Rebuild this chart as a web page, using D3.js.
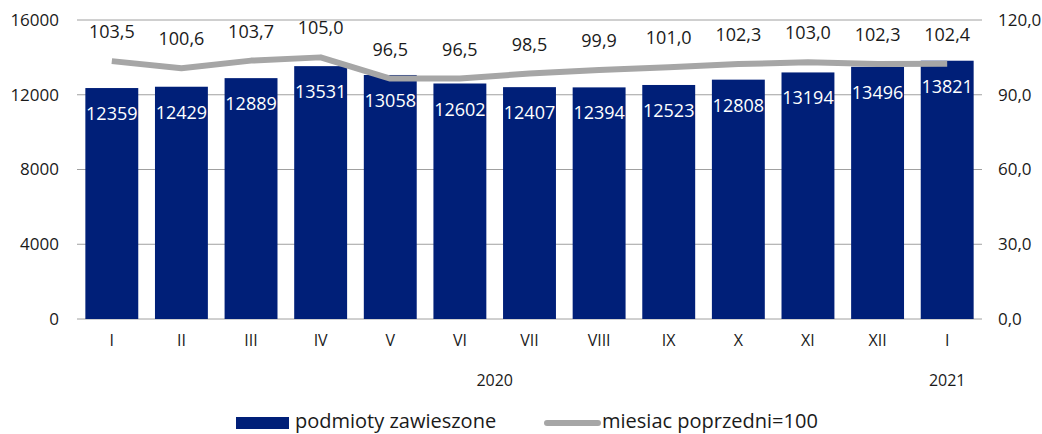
<!DOCTYPE html>
<html>
<head>
<meta charset="utf-8">
<script src="https://cdn.jsdelivr.net/npm/d3@7"></script>
<style>
  body{margin:0;background:#fff}
  svg{display:block}
</style>
</head>
<body>
<svg id="chart" width="1042" height="434"></svg>
<script>
// data
var months=['I','II','III','IV','V','VI','VII','VIII','IX','X','XI','XII','I'];
var suspended=[12359,12429,12889,13531,13058,12602,12407,12394,12523,12808,13194,13496,13821];
var prevMonth=[103.5,100.6,103.7,105.0,96.5,96.5,98.5,99.9,101.0,102.3,103.0,102.3,102.4];
var leftTicks=[0,4000,8000,12000,16000];
var rightTicks=[0,30,60,90,120];
var years=[{label:'2020',idx:5.5},{label:'2021',idx:12}];

var F='"Open Sans","Noto Sans",sans-serif';
var C={bar:'#001f78',line:'#a6a6a6',grid:'#a0a0a0',text:'#1a1a1a'};

var svg=d3.select('#chart');
var L=77,R=982,T=20,B=319;
var keys=months.map(function(m,i){return i});

var x=d3.scaleBand().domain(keys).range([L,R]).paddingInner(0.24).paddingOuter(0.12);
var yL=d3.scaleLinear().domain([0,16000]).range([B,T]);
var yR=d3.scaleLinear().domain([0,120]).range([B,T]);

function txt(sel,size){
  sel.style('font-family',F).attr('font-size',size).attr('fill',C.text);
}

// gridlines
svg.append('g').selectAll('line').data(leftTicks).join('line')
  .attr('x1',L).attr('x2',R).attr('y1',function(d){return yL(d)}).attr('y2',function(d){return yL(d)})
  .attr('stroke',C.grid).attr('stroke-width',1);

// left axis
var axL=svg.append('g').attr('transform','translate(59,0)')
  .call(d3.axisLeft(yL).tickValues(leftTicks).tickSize(0).tickPadding(0).tickFormat(d3.format('d')));
axL.select('.domain').remove();
txt(axL.selectAll('text'),17);

// right axis
var axR=svg.append('g').attr('transform','translate(998,0)')
  .call(d3.axisRight(yR).tickValues(rightTicks).tickSize(0).tickPadding(0).tickFormat(function(d){return d3.format('.1f')(d).replace('.',',')}));
axR.select('.domain').remove();
txt(axR.selectAll('text'),17);

// bottom axis (month labels)
var axB=svg.append('g').attr('transform','translate(0,'+B+')')
  .call(d3.axisBottom(x).tickSize(0).tickPadding(16).tickFormat(function(i){return months[i]}));
axB.select('.domain').remove();
txt(axB.selectAll('text'),16);

// bars
svg.append('g').selectAll('rect').data(suspended).join('rect')
  .attr('x',function(d,i){return x(i)}).attr('width',x.bandwidth())
  .attr('y',function(d){return yL(d)}).attr('height',function(d){return B-yL(d)})
  .attr('fill',C.bar);

// bar labels
svg.append('g').selectAll('text').data(suspended).join('text')
  .attr('x',function(d,i){return x(i)+x.bandwidth()/2})
  .attr('y',function(d){return yL(d)+32})
  .attr('text-anchor','middle').style('font-family',F).attr('font-size',18).attr('fill','#fff')
  .text(function(d){return d});

// line
var cx=function(i){return x(i)+x.bandwidth()/2};
var line=d3.line().x(function(d,i){return cx(i)}).y(function(d){return yR(d)});
svg.append('path').datum(prevMonth).attr('d',line)
  .attr('fill','none').attr('stroke',C.line).attr('stroke-width',6).attr('stroke-linejoin','round');

// line labels
var ll=svg.append('g').selectAll('text').data(prevMonth).join('text')
  .attr('x',function(d,i){return cx(i)}).attr('y',function(d){return yR(d)-23})
  .attr('text-anchor','middle')
  .text(function(d){return d3.format('.1f')(d).replace('.',',')});
txt(ll,18);

// year labels
var yl=svg.append('g').selectAll('text').data(years).join('text')
  .attr('x',function(d){return x(Math.floor(d.idx))+x.step()*(d.idx-Math.floor(d.idx))+x.bandwidth()/2})
  .attr('y',386).attr('text-anchor','middle')
  .text(function(d){return d.label});
txt(yl,16);

// legend
var lg=svg.append('g');
lg.append('rect').attr('x',236).attr('y',417).attr('width',53).attr('height',12).attr('fill',C.bar);
txt(lg.append('text').attr('x',295).attr('y',428).text('podmioty zawieszone'),20);
lg.append('line').attr('x1',547).attr('x2',598).attr('y1',423).attr('y2',423).attr('stroke',C.line).attr('stroke-width',6).attr('stroke-linecap','round');
txt(lg.append('text').attr('x',602).attr('y',428).text('miesiac poprzedni=100'),20);
</script>
</body>
</html>
